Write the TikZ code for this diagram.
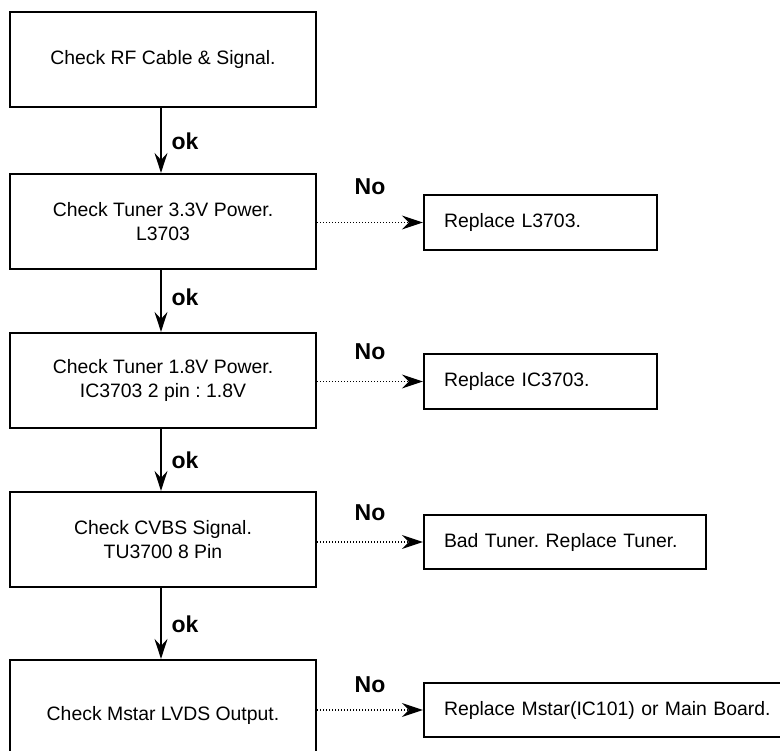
\documentclass[tikz,border=0pt]{standalone}
\usepackage{fontspec}
\setmainfont{Liberation Sans}
\usetikzlibrary{arrows.meta}
\frenchspacing
\begin{document}
\begin{tikzpicture}[x=1pt,y=-1pt,
  mainbox/.style={draw, line width=2.2pt, minimum width=306pt, minimum height=95pt, align=center, inner sep=0pt,
    font=\fontsize{19.4}{24}\selectfont},
  sidebox/.style={draw, line width=2.2pt, minimum height=55pt, align=left, inner xsep=20pt, inner ysep=0pt,
    font=\fontsize{19.4}{24}\selectfont},
  okarrow/.style={line width=1.5pt, -{Stealth[length=20pt,width=13pt,inset=7pt]}},
  noarrow/.style={line width=1.3pt, dash pattern=on 1.2pt off 1.8pt, -{Stealth[length=21pt,width=14pt,inset=7pt]}},
  lbl/.style={font=\fontsize{23}{24}\bfseries\selectfont, inner sep=0pt}
]
\useasboundingbox (0,0) rectangle (780,751);
\fill[white] (0,0) rectangle (780,751);

\node[mainbox] (b1) at (163,59.5) {Check RF Cable \& Signal.};
\node[mainbox] (b2) at (163,221.5) {Check Tuner 3.3V Power.\\L3703};
\node[mainbox] (b3) at (163,380.5) {Check Tuner 1.8V Power.\\IC3703 2 pin : 1.8V};
\node[mainbox] (b4) at (163,539.5) {Check CVBS Signal.\\TU3700 8 Pin};
\node[mainbox, minimum height=110pt] (b5) at (163,715) {Check Mstar LVDS Output.};

\node[sidebox, text width=193pt] (r1) at (540.5,222.5) {Replace L3703.};
\node[sidebox, text width=193pt] (r2) at (540.5,381.5) {Replace IC3703.};
\node[sidebox, text width=242pt, minimum height=54pt] (r3) at (565,542) {Bad Tuner. Replace Tuner.};
\node[sidebox, text width=336pt, minimum height=54pt] (r4) at (612,710) {Replace Mstar(IC101) or Main Board.};

\draw[okarrow] ([xshift=-2pt]b1.south) -- ([xshift=-2pt]b2.north);
\draw[okarrow] ([xshift=-2pt]b2.south) -- ([xshift=-2pt]b3.north);
\draw[okarrow] ([xshift=-2pt]b3.south) -- ([xshift=-2pt]b4.north);
\draw[okarrow] ([xshift=-2pt]b4.south) -- ([xshift=-2pt]b5.north);

\node[lbl] (ok1) at (185,141) {ok};
\node[lbl] (ok2) at (185,297) {ok};
\node[lbl] (ok3) at (185,460) {ok};
\node[lbl] (ok4) at (185,624) {ok};

\draw[noarrow] (b2.east |- r1.west) -- (r1.west);
\draw[noarrow] (b3.east |- r2.west) -- (r2.west);
\draw[noarrow] (b4.east |- r3.west) -- (r3.west);
\draw[noarrow] (b5.east |- r4.west) -- (r4.west);

\node[lbl] (no1) at (370,187) {No};
\node[lbl] (no2) at (370,352) {No};
\node[lbl] (no3) at (370,513) {No};
\node[lbl] (no4) at (370,685) {No};
\end{tikzpicture}
\end{document}
